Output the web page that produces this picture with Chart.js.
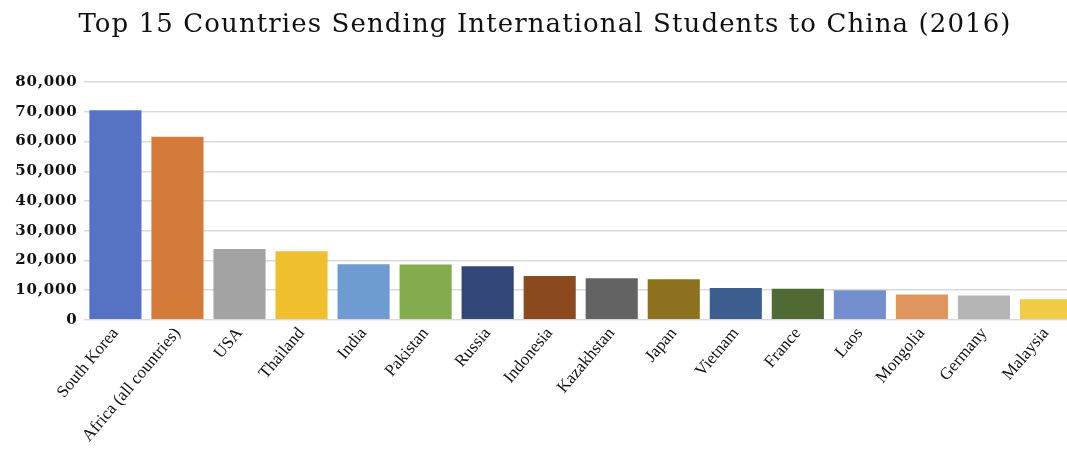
<!DOCTYPE html>
<html>
<head>
<meta charset="utf-8">
<script src="https://cdn.jsdelivr.net/npm/chart.js@4.4.1/dist/chart.umd.min.js"></script>
<style>
  html, body { margin: 0; padding: 0; background: #ffffff; overflow: hidden; width: 1067px; height: 452px; }
  #wrap { position: absolute; left: 0; top: 0; width: 1080px; height: 452px; }
</style>
</head>
<body>
<div id="wrap"><canvas id="c" width="1080" height="452"></canvas></div>
<script>
const categories = ["South Korea", "Africa (all countries)", "USA", "Thailand", "India", "Pakistan", "Russia", "Indonesia", "Kazakhstan", "Japan", "Vietnam", "France", "Laos", "Mongolia", "Germany", "Malaysia"];
const students = [70540, 61594, 23838, 23044, 18717, 18626, 17971, 14714, 13996, 13595, 10639, 10414, 9907, 8508, 8145, 6880];
const barColors = ["#5572C5", "#D57B3A", "#A3A3A3", "#EFBF2F", "#6D9BD2", "#82AC4E", "#334678", "#8B4A1E", "#636363", "#8C721E", "#3C5E8E", "#4F6A33", "#738FCE", "#DE965E", "#B5B5B5", "#F2CB45"];
const yTicks = [0, 10000, 20000, 30000, 40000, 50000, 60000, 70000, 80000];
const titleText = "Top 15 Countries Sending International Students to China (2016)";

const chart = new Chart(document.getElementById("c"), {
  type: "bar",
  data: {
    labels: categories,
    datasets: [{
      data: students,
      backgroundColor: barColors,
      borderWidth: 0,
      barPercentage: 0.84,
      categoryPercentage: 1.0
    }]
  },
  options: {
    responsive: false,
    animation: false,
    layout: { padding: { left: 13, right: 3, top: 9, bottom: 2 } },
    plugins: {
      legend: { display: false },
      tooltip: { enabled: false },
      title: {
        display: true,
        text: titleText,
        color: "#111111",
        font: { family: "DejaVu Serif", size: 26, weight: "normal" },
        padding: { top: 1, bottom: 41 }
      }
    },
    scales: {
      x: {
        grid: { display: false, drawTicks: false },
        border: { display: false },
        ticks: {
          color: "#111111",
          font: { family: "Liberation Serif", size: 17 },
          minRotation: 50,
          maxRotation: 50,
          padding: 4,
          autoSkip: false
        }
      },
      y: {
        min: 0,
        max: 80000,
        afterBuildTicks: (axis) => { axis.ticks = yTicks.map(v => ({ value: v })); },
        grid: { color: "#D9D9D9", lineWidth: 1.5, drawTicks: false },
        border: { display: false },
        ticks: {
          color: "#111111",
          font: { family: "DejaVu Serif", size: 15, weight: "bold" },
          padding: 7,
          callback: (v) => v.toLocaleString("en-US")
        }
      }
    }
  }
});

// wider letter spacing for the title and y-axis labels to match the reference's stretched look
function spaced(obj, fnName, spacing) {
  const orig = obj[fnName].bind(obj);
  obj[fnName] = function (...args) {
    const ctx = chart.ctx;
    const prev = ctx.letterSpacing;
    ctx.letterSpacing = spacing;
    orig(...args);
    ctx.letterSpacing = prev || "0px";
  };
}
spaced(chart.titleBlock, "draw", "1.1px");
spaced(chart.scales.y, "drawLabels", "0.8px");
chart.draw();
</script>
</body>
</html>
